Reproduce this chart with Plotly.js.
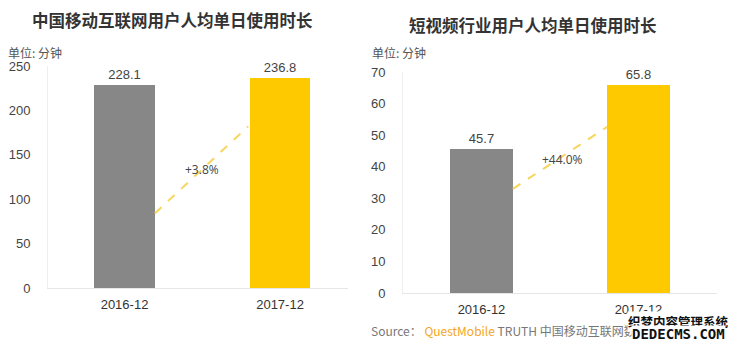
<!DOCTYPE html>
<html><head><meta charset="utf-8">
<script src="https://cdn.plot.ly/plotly-3.0.1.min.js"></script>
<style>html,body{margin:0;padding:0;background:#fff}#c{width:737px;height:348px}</style>
</head><body><div id="c"></div>
<script>
const categories = ['2016-12', '2017-12'];
const mobileValues = [228.1, 236.8];
const shortVideoValues = [45.7, 65.8];
const mobileGrowth = '+3.8%';
const shortVideoGrowth = '+44.0%';
const titleLeft = '中国移动互联网用户人均单日使用时长';
const titleRight = '短视频行业用户人均单日使用时长';
const unitLabel = '单位: 分钟';
const leftTicks = [0, 50, 100, 150, 200, 250];
const rightTicks = [0, 10, 20, 30, 40, 50, 60, 70];
const barColors = ['#878787', '#FFC900'];

const W = 737, H = 348;
const px = v => v / W, py = v => 1 - v / H;
const cjk = '"Noto Sans CJK SC", "Noto Sans", sans-serif';
const num = '"Liberation Sans", Arial, sans-serif';

const bw1 = 0.39, bw2 = 0.40;
const traces = [
  {type:'bar', x: categories, y: mobileValues, xaxis:'x', yaxis:'y', width: bw1,
   marker:{color: barColors}, text: mobileValues.map(v=>v.toFixed(1)), textposition:'outside',
   cliponaxis:false, textfont:{family:num, size:13, color:'#444'}, hoverinfo:'skip'},
  {type:'bar', x: categories, y: shortVideoValues, xaxis:'x2', yaxis:'y2', width: bw2,
   marker:{color: barColors}, text: shortVideoValues.map(v=>v.toFixed(1)), textposition:'outside',
   cliponaxis:false, textfont:{family:num, size:13, color:'#444'}, hoverinfo:'skip'}
];

const axisCommon = {showgrid:false, zeroline:false, ticks:'', fixedrange:true};
const layout = {
  width: W, height: H, margin:{l:0,r:0,t:0,b:0}, showlegend:false,
  paper_bgcolor:'#fff', plot_bgcolor:'#fff', bargap:0,
  xaxis: Object.assign({}, axisCommon, {type:'category', domain:[px(48), px(348)], range:[-0.492, 1.437],
    showline:true, linecolor:'#e6e6e6', linewidth:1, anchor:'y',
    tickfont:{family:num, size:13, color:'#333'}, ticklabelstandoff:4}),
  yaxis: Object.assign({}, axisCommon, {domain:[py(288), py(66)], range:[0,250], tickvals:leftTicks,
    showline:true, linecolor:'#eeeeee', linewidth:1, anchor:'x',
    tickfont:{family:num, size:13, color:'#444'}, ticklabelstandoff:14}),
  xaxis2: Object.assign({}, axisCommon, {type:'category', domain:[px(403), px(717)], range:[-0.5, 1.5],
    showline:true, linecolor:'#e6e6e6', linewidth:1, anchor:'y2',
    tickfont:{family:num, size:13, color:'#333'}, ticklabelstandoff:4}),
  yaxis2: Object.assign({}, axisCommon, {domain:[py(293), py(72)], range:[0,70], tickvals:rightTicks,
    showline:true, linecolor:'#eeeeee', linewidth:1, anchor:'x2',
    tickfont:{family:num, size:13, color:'#444'}, ticklabelstandoff:14}),
  shapes: [
    {type:'line', xref:'x', yref:'y', x0: bw1/2, x1: 1 - bw1/2 - 0.01, y0: 84, y1: 182,
     line:{color:'#F7D55A', width:2, dash:'dash'}},
    {type:'line', xref:'x2', yref:'y2', x0: bw2/2, x1: 1 - bw2/2, y0: 33, y1: 52.6,
     line:{color:'#F7D55A', width:2, dash:'dash'}}
  ],
  annotations: [
    {text: titleLeft, x: px(172), y: py(20),
     font:{family:cjk, size:16.5, color:'#333', weight:700}},
    {text: titleRight, x: px(533), y: py(25),
     font:{family:cjk, size:16.5, color:'#333', weight:700}},
    {text: unitLabel, x: px(6), y: py(52), xanchor:'left',
     font:{family:cjk, size:12, color:'#555'}},
    {text: unitLabel, x: px(370), y: py(52), xanchor:'left',
     font:{family:cjk, size:12, color:'#555'}},
    {text: mobileGrowth, x: px(202), y: py(169),
     font:{family:'"Open Sans", sans-serif', size:12, color:'#444'}},
    {text: shortVideoGrowth, x: px(562), y: py(159),
     font:{family:'"Open Sans", sans-serif', size:12, color:'#444'}},
    {text: 'Source： <span style="color:#F5A623">QuestMobile</span> TRUTH 中国移动互联网数据库', 
     x: px(369), y: py(330), xanchor:'left',
     font:{family:cjk, size:12, color:'#777'}},
    {text: '<b>织梦内容管理系统</b>', x: px(678), y: py(321),
     bgcolor:'#fff', borderpad:0, font:{family:cjk, size:12.5, color:'#111'}},
    {text: '<b>DEDECMS.COM</b>', x: px(678), y: py(334),
     bgcolor:'#fff', borderpad:0, font:{family:'"DejaVu Sans Mono", monospace', size:14, color:'#111'}}
  ].map(a => Object.assign({xref:'paper', yref:'paper', showarrow:false, xanchor:'center', yanchor:'middle'}, a))
};
Plotly.newPlot('c', traces, layout, {staticPlot:true, displayModeBar:false});
</script></body></html>
